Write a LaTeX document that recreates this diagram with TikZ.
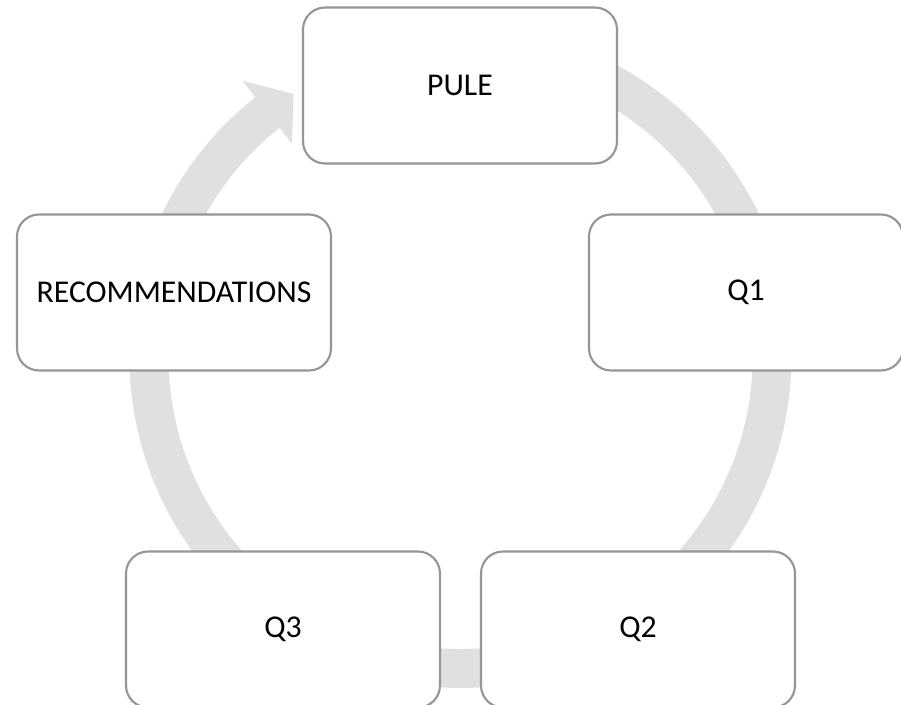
\documentclass[tikz,border=0pt]{standalone}
\usepackage{fontspec}
\setmainfont{Carlito}
\begin{document}
\begin{tikzpicture}[x=0.75pt,y=-0.75pt,
  stagebox/.style={draw=boxgray, line width=1.6pt, fill=white, rounded corners=16.5pt,
    minimum width=235.5pt, minimum height=117pt, inner sep=0pt,
    font=\fontsize{23.8}{28}\selectfont, text=black},
]
\definecolor{boxgray}{RGB}{150,150,150}
\definecolor{bandgray}{RGB}{224,224,224}
\useasboundingbox (0,0) rectangle (901,705);
\clip (0,0) rectangle (901,705);

% circular band with arrowhead, drawn in a y-up frame around the ring centre
\begin{scope}[shift={(460.5,357)}, yscale=-1]
  \fill[bandgray]
    (128.3:331) arc[start angle=128.3, end angle=460, radius=331]
    -- (460:292) arc[start angle=460, end angle=128.3, radius=292]
    -- (128.3:272) -- (122.4:311.5) -- (128.3:352) -- cycle;
\end{scope}

% stage boxes
\node[stagebox] (pule) at (460,85.5) {PULE};
\node[stagebox] (qone) at (746,292.5) {Q1};
\node[stagebox] (qtwo) at (638,629.5) {Q2};
\node[stagebox] (qthree) at (283,629.5) {Q3};
\node[stagebox] (recs) at (174,292.5) {RECOMMENDATIONS};
\end{tikzpicture}
\end{document}
